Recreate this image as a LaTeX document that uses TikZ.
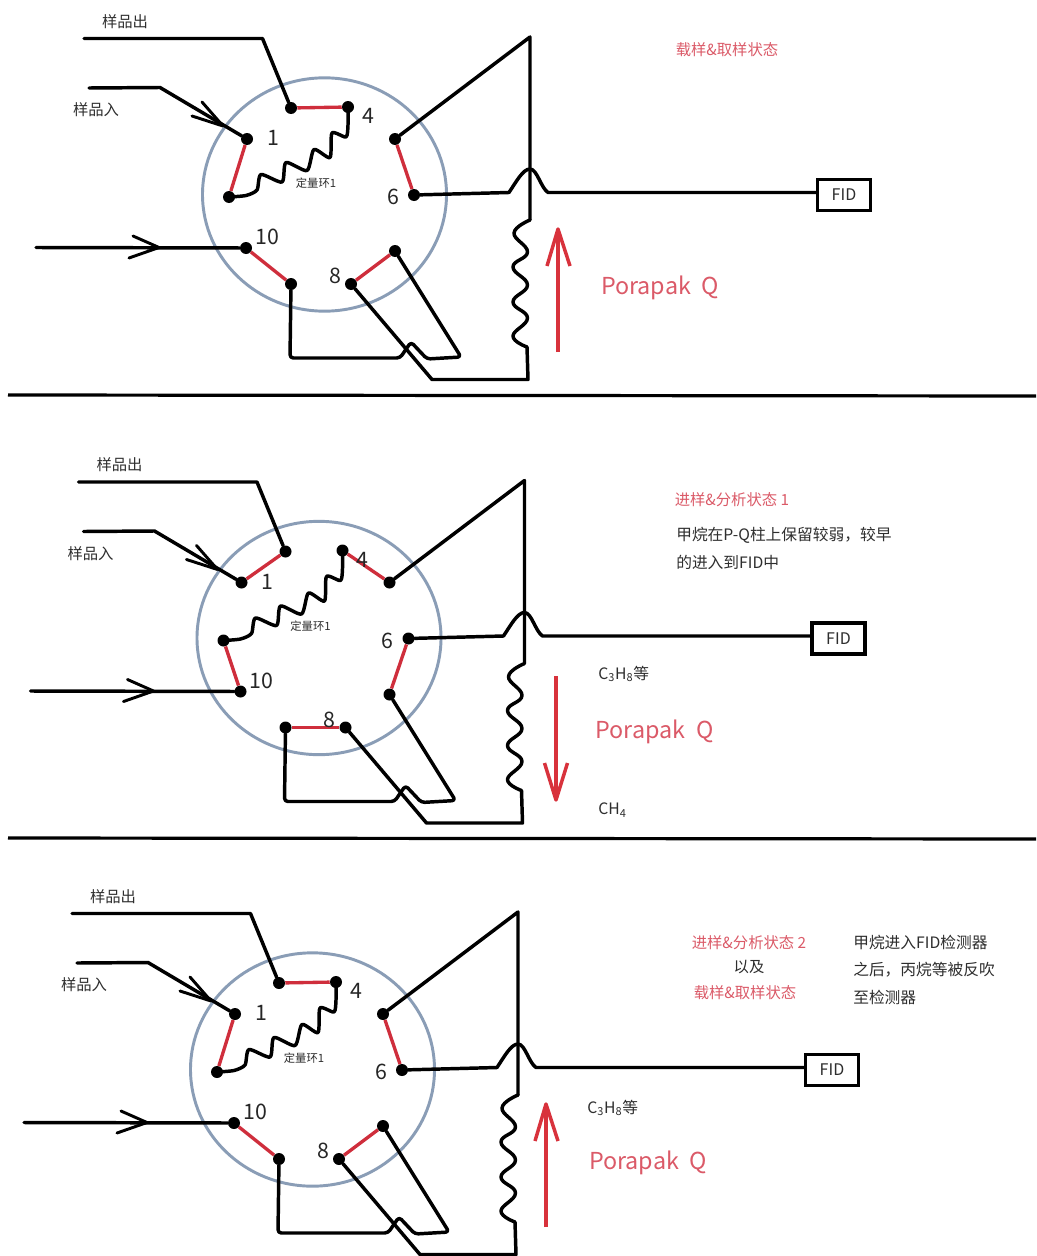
\documentclass[tikz,border=0pt]{standalone}
\usepackage{fontspec}
\usetikzlibrary{shapes.geometric}
\setmainfont{Noto Sans CJK SC}
\definecolor{ringc}{HTML}{8A9DB6}
\definecolor{redw}{HTML}{CF2E3C}
\definecolor{reda}{HTML}{D8323C}
\definecolor{redt}{HTML}{DB5A68}
\definecolor{txt}{HTML}{2E2E2E}
\tikzset{
  port/.style={circle,fill=black,inner sep=0pt,minimum size=9pt},
  wire/.style={line width=2.6pt,black,line join=round,line cap=round},
  barb/.style={line width=2.2pt,black,line join=round,line cap=round},
  redwire/.style={line width=2.5pt,redw},
  ring/.style={line width=2.2pt,ringc},
  redarrow/.style={line width=2.6pt,reda,line join=round},
  numlab/.style={font=\fontsize{16}{16}\selectfont,text=black!85,inner sep=0pt},
  smalllab/.style={font=\fontsize{11.5}{13}\selectfont,text=txt,inner sep=0pt},
  looplab/.style={font=\fontsize{8.5}{10}\selectfont,text=txt,inner sep=0pt},
  statelab/.style={font=\fontsize{11.5}{14}\selectfont,text=redt,inner sep=0pt},
  notelab/.style={font=\fontsize{11.8}{14}\selectfont,text=txt,inner sep=0pt,anchor=west},
  columnlab/.style={font=\fontsize{17.5}{18}\selectfont,text=redt,inner sep=0pt},
  fidbox/.style={draw=black,line width=2.6pt,fill=white,minimum width=40pt,minimum height=23.5pt,inner sep=0pt,font=\fontsize{12}{12}\selectfont,text=txt},
}
% #1 prefix, #2 dx, #3 dy, #4 red pairs
\newcommand{\valvepanel}[4]{%
\begin{scope}[shift={(#2,#3)}]
  \node[draw,ring,ellipse,inner sep=0pt,minimum width=183pt,minimum height=175pt] (#1ring) at (324.5,194.5) {};
  \foreach \n/\x/\y in {A/291/108,B/348/107,C/395/139,D/414/195,E/395/251,F/351/284,G/291/284,H/246/248,I/229/197,J/247/139}
    \node[port] (#1\n) at (\x,\y) {};
  \foreach \p/\q in {#4} \draw[redwire] (#1\p) -- (#1\q);
  % named way points
  \coordinate (#1so) at (84,38.5);
  \coordinate (#1sk) at (262.5,38.5);
  \coordinate (#1si) at (89,88);
  \coordinate (#1sj) at (160,87.5);
  \coordinate (#1st) at (223,126);
  \coordinate (#1sa) at (202,102);
  \coordinate (#1sb) at (192,116);
  \coordinate (#1ci) at (36,247.5);
  \coordinate (#1ct) at (159,247.5);
  \coordinate (#1ca) at (133,236);
  \coordinate (#1cb) at (129,258);
  \coordinate (#1pk) at (530,37);
  \coordinate (#1ht) at (530,169);
  \coordinate (#1hl) at (509,192.5);
  \coordinate (#1hr) at (548,192.5);
  \coordinate (#1ca1) at (530,220);
  \coordinate (#1cb1) at (527,347);
  \coordinate (#1bt) at (528,379.5);
  \coordinate (#1bl) at (432,379.5);
  \coordinate (#1gb) at (290,358);
  \coordinate (#1gh) at (400,358);
  \coordinate (#1hh) at (411,342);
  \coordinate (#1gi) at (427,359);
  \coordinate (#1er) at (461,357);
  \node[fidbox] (#1fid) at (844,195) {FID};
  % wires
  \draw[wire] (#1so) -- (#1sk) -- (#1A);
  \draw[wire] (#1si) -- (#1sj) -- (#1J);
  \draw[barb] (#1sa) -- (#1st) -- (#1sb);
  \draw[wire] (#1ci) -- (#1H);
  \draw[barb] (#1ca) -- (#1ct) -- (#1cb);
  \draw[wire] (#1C) -- (#1pk) -- (#1ca1);
  \draw[wire] (#1D) -- (#1hl) .. controls (516,182) and (523,169) .. (#1ht) .. controls (537,169) and (541,188) .. (#1hr) -- (#1fid.west |- #1hr);
  \draw[wire] plot[smooth,tension=0.75] coordinates {(#1ca1) (514,233) (527.5,252) (513,267) (527.5,285) (513,302) (527.5,318) (513,336) (#1cb1)};
  \draw[wire] (#1cb1) -- (#1bt) -- (#1bl) -- (#1F);
  \draw[wire,rounded corners=2.5pt] (#1G) -- (#1gb) -- (#1gh) -- (#1hh) -- (#1gi) -- (#1er) -- (#1E);
  % sample loop
  \draw[wire] plot[smooth,tension=0.42] coordinates {(#1I.center) (246,195.5) (257,190) (261,174.5) (282,182) (286,162.5) (307,170.5) (314,149.5) (330,157.5) (332,133) (346,137) (348,125) (#1B.center)};
  % texts
  \node[numlab] (#1n1) at (273,138) {1};
  \node[numlab] (#1n4) at (368,116) {4};
  \node[numlab] (#1n6) at (393,197) {6};
  \node[numlab] (#1n8) at (335,276) {8};
  \node[numlab] (#1n10) at (267,237) {10};
  \node[smalllab] (#1lo) at (125,21.5) {样品出};
  \node[smalllab] (#1li) at (96,110) {样品入};
  \node[looplab] (#1ll) at (316,183) {定量环1};
  \node[columnlab] (#1pq) at (660,288) {Porapak\ \ Q};
\end{scope}}
\begin{document}
\begin{tikzpicture}[x=0.75pt,y=-0.75pt]
\useasboundingbox (0,0) rectangle (1036,1256);
\clip (0,0) rectangle (1036,1256);
\fill[white] (0,0) rectangle (1036,1256);

\valvepanel{a}{0}{0}{A/B,J/I,C/D,E/F,H/G}
\valvepanel{b}{-5.5}{443.5}{J/A,B/C,D/E,F/G,I/H}
\valvepanel{c}{-12}{875}{A/B,J/I,C/D,E/F,H/G}

% separators
\coordinate (s1l) at (8,395); \coordinate (s1r) at (1036,396);
\coordinate (s2l) at (8,838); \coordinate (s2r) at (1036,839);
\draw[line width=2.4pt,black] (s1l) -- (s1r);
\draw[line width=2.4pt,black] (s2l) -- (s2r);

% column flow arrows
\coordinate (r1b) at (558,352); \coordinate (r1t) at (558,229);
\coordinate (r1l) at (547,266); \coordinate (r1r) at (570,266);
\draw[redarrow] (r1b) -- (r1t);
\draw[redarrow] (r1l) -- (r1t) -- (r1r);
\coordinate (r2t) at (556,676); \coordinate (r2b) at (556,800);
\coordinate (r2l) at (544.5,763); \coordinate (r2r) at (567.5,763);
\draw[redarrow] (r2t) -- (r2b);
\draw[redarrow] (r2l) -- (r2b) -- (r2r);
\coordinate (r3b) at (546,1227); \coordinate (r3t) at (546,1104);
\coordinate (r3l) at (535,1141); \coordinate (r3r) at (558,1141);
\draw[redarrow] (r3b) -- (r3t);
\draw[redarrow] (r3l) -- (r3t) -- (r3r);

% state captions
\node[statelab] (t1) at (727,50) {载样\&取样状态};
\node[statelab] (t2) at (732,500) {进样\&分析状态 1};
\node[notelab] (t3) at (676,535) {甲烷在P-Q柱上保留较弱，较早};
\node[notelab] (t4) at (676,562) {的进入到FID中};
\node[notelab] (t5) at (598,674) {C\textsubscript{3}H\textsubscript{8}等};
\node[notelab] (t6) at (598,810) {CH\textsubscript{4}};
\node[statelab] (t7) at (749,943) {进样\&分析状态 2};
\node[smalllab] (t8) at (749,967) {以及};
\node[statelab] (t9) at (745,993) {载样\&取样状态};
\node[notelab] (t10) at (853,943) {甲烷进入FID检测器};
\node[notelab] (t11) at (853,970) {之后，丙烷等被反吹};
\node[notelab] (t12) at (853,997) {至检测器};
\node[notelab] (t13) at (587,1108) {C\textsubscript{3}H\textsubscript{8}等};
\end{tikzpicture}
\end{document}
